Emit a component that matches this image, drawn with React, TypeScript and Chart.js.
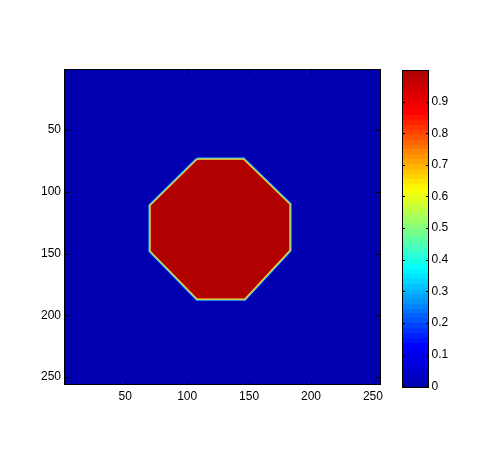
import React, { useEffect, useRef } from "react";
import { Chart, registerables } from "chart.js";
Chart.register(...registerables);

// ---- data ----
const IMAGE_X_EXTENT = [0.5, 256.5];
const IMAGE_Y_EXTENT = [0.5, 256.5];
const X_TICKS = [50, 100, 150, 200, 250];
const Y_TICKS = [50, 100, 150, 200, 250];
const OCTAGON_X = [108, 145.5, 183, 183, 146.5, 108, 70, 70, 108];
const OCTAGON_Y = [73.5, 73.5, 110, 147.5, 187, 187, 148, 111, 73.5];
const BACKGROUND_VALUE = 0;
const OCTAGON_VALUE = 1;
const CBAR_RANGE = [-0.0057, 1.0];
const CBAR_TICKS = [0, 0.1, 0.2, 0.3, 0.4, 0.5, 0.6, 0.7, 0.8, 0.9];
const CBAR_LABELS = ["0", "0.1", "0.2", "0.3", "0.4", "0.5", "0.6", "0.7", "0.8", "0.9"];

// ---- style ----
const FONT = { family: "'Liberation Sans', Arial, Helvetica, sans-serif", size: 12 };
const JET_STOPS: [number, number[]][] = [
  [0, [0, 0, 176]],
  [0.125, [0, 0, 255]],
  [0.375, [0, 255, 255]],
  [0.625, [255, 255, 0]],
  [0.875, [255, 0, 0]],
  [1, [176, 0, 0]],
];
const LEVELS = 64;

function jet(t: number): string {
  const q = Math.min(LEVELS - 1, Math.max(0, Math.floor(t * LEVELS)));
  const v = q / (LEVELS - 1);
  for (let i = 1; i < JET_STOPS.length; i++) {
    const [p1, c1] = JET_STOPS[i];
    const [p0, c0] = JET_STOPS[i - 1];
    if (v <= p1) {
      const f = (v - p0) / (p1 - p0);
      const c = c0.map((a, k) => Math.round(a + (c1[k] - a) * f));
      return `rgb(${c[0]},${c[1]},${c[2]})`;
    }
  }
  return "rgb(176,0,0)";
}
function valueColor(v: number) {
  return jet((v - CBAR_RANGE[0]) / (CBAR_RANGE[1] - CBAR_RANGE[0]));
}

const frameTicks = (len: number, xTicks: boolean) => ({
  id: "frameTicks",
  afterDraw(chart: any) {
    const { ctx, chartArea: a, scales } = chart;
    ctx.save();
    ctx.strokeStyle = "#000";
    ctx.lineWidth = 1;
    ctx.beginPath();
    if (xTicks) {
      for (const v of X_TICKS) {
        const px = Math.round(scales.x.getPixelForValue(v)) + 0.5;
        ctx.moveTo(px, a.bottom); ctx.lineTo(px, a.bottom - len);
        ctx.moveTo(px, a.top); ctx.lineTo(px, a.top + len);
      }
    }
    for (const t of scales.y.ticks) {
      const py = Math.round(scales.y.getPixelForValue(t.value)) + 0.5;
      ctx.moveTo(a.left, py); ctx.lineTo(a.left + len, py);
      ctx.moveTo(a.right, py); ctx.lineTo(a.right - len, py);
    }
    ctx.stroke();
    ctx.strokeRect(a.left + 0.5, a.top + 0.5, a.right - a.left - 1, a.bottom - a.top - 1);
    ctx.restore();
  },
});

export default function App() {
  const mainRef = useRef<HTMLCanvasElement>(null);
  const barRef = useRef<HTMLCanvasElement>(null);

  useEffect(() => {
    const octPts = OCTAGON_X.map((x, i) => ({ x, y: OCTAGON_Y[i] }));
    const bgPts = [
      { x: IMAGE_X_EXTENT[0], y: IMAGE_Y_EXTENT[0] },
      { x: IMAGE_X_EXTENT[1], y: IMAGE_Y_EXTENT[0] },
      { x: IMAGE_X_EXTENT[1], y: IMAGE_Y_EXTENT[1] },
      { x: IMAGE_X_EXTENT[0], y: IMAGE_Y_EXTENT[1] },
      { x: IMAGE_X_EXTENT[0], y: IMAGE_Y_EXTENT[0] },
    ];
    const main = new Chart(mainRef.current!, {
      type: "scatter",
      data: {
        datasets: [
          {
            data: bgPts, showLine: true, fill: "shape", order: 3,
            backgroundColor: valueColor(BACKGROUND_VALUE), borderWidth: 0, pointRadius: 0,
          },
          {
            data: octPts, showLine: true, fill: false, order: 2,
            borderColor: "#22B8FF", borderWidth: 3.2, pointRadius: 0, borderJoinStyle: "miter",
          },
          {
            data: octPts, showLine: true, fill: "shape", order: 1,
            backgroundColor: valueColor(OCTAGON_VALUE), borderColor: "#FFE030", borderWidth: 1.2,
            pointRadius: 0, borderJoinStyle: "miter",
          },
        ] as any,
      },
      options: {
        responsive: false, animation: false, devicePixelRatio: 1, events: [],
        layout: { padding: { left: 0, top: 69, right: 116, bottom: 0 } },
        plugins: { legend: { display: false }, tooltip: { enabled: false } },
        scales: {
          x: {
            type: "linear", position: "bottom", min: IMAGE_X_EXTENT[0], max: IMAGE_X_EXTENT[1],
            grid: { display: false, drawTicks: false }, border: { display: false },
            ticks: { font: FONT, color: "#000", padding: 4, maxRotation: 0, autoSkip: false, callback: (v: any) => String(v) },
            afterBuildTicks: (s: any) => { s.ticks = X_TICKS.map((value) => ({ value })); },
            afterFit: (s: any) => { s.height = 87; },
          },
          y: {
            type: "linear", position: "left", reverse: true, min: IMAGE_Y_EXTENT[0], max: IMAGE_Y_EXTENT[1],
            grid: { display: false, drawTicks: false }, border: { display: false },
            ticks: { font: FONT, color: "#000", padding: 3, autoSkip: false, callback: (v: any) => String(v) },
            afterBuildTicks: (s: any) => { s.ticks = Y_TICKS.map((value) => ({ value })); },
            afterFit: (s: any) => { s.width = 64; },
          },
        },
      } as any,
      plugins: [frameTicks(5, true)],
    });

    const cbar = new Chart(barRef.current!, {
      type: "bar",
      data: {
        labels: ["c"],
        datasets: [
          {
            data: [[CBAR_RANGE[0], CBAR_RANGE[1]]] as any,
            categoryPercentage: 1, barPercentage: 1, borderWidth: 0, borderSkipped: false,
            backgroundColor: (ctx: any) => {
              const chart = ctx.chart;
              if (!chart.chartArea || !chart.scales.y) return "blue";
              const ys = chart.scales.y;
              const y0 = ys.getPixelForValue(CBAR_RANGE[0]);
              const y1 = ys.getPixelForValue(CBAR_RANGE[1]);
              const g = chart.ctx.createLinearGradient(0, y0, 0, y1);
              for (let i = 0; i < LEVELS; i++) {
                const c = jet((i + 0.5) / LEVELS);
                g.addColorStop(i / LEVELS, c);
                g.addColorStop((i + 1) / LEVELS, c);
              }
              return g;
            },
          },
        ],
      },
      options: {
        responsive: false, animation: false, devicePixelRatio: 1, events: [],
        layout: { padding: { left: 22, top: 70, right: 0, bottom: 84 } },
        plugins: { legend: { display: false }, tooltip: { enabled: false } },
        scales: {
          x: { display: false },
          y: {
            type: "linear", position: "right", min: CBAR_RANGE[0], max: CBAR_RANGE[1],
            grid: { display: false, drawTicks: false }, border: { display: false },
            ticks: {
              font: FONT, color: "#000", padding: 2.5, autoSkip: false,
              callback: (v: any) => { const i = CBAR_TICKS.findIndex((t) => Math.abs(t - v) < 1e-9); return i >= 0 ? CBAR_LABELS[i] : ""; },
            },
            afterBuildTicks: (s: any) => { s.ticks = CBAR_TICKS.map((value) => ({ value })); },
            afterFit: (s: any) => { s.width = 68; },
          },
        },
      } as any,
      plugins: [frameTicks(3, false)],
    });

    return () => { main.destroy(); cbar.destroy(); };
  }, []);

  return (
    <div style={{ position: "absolute", left: 0, top: 0, width: 497, height: 472, background: "#fff" }}>
      <canvas ref={mainRef} width={497} height={472} style={{ position: "absolute", left: 0, top: 0 }} />
      <canvas ref={barRef} width={117} height={472} style={{ position: "absolute", left: 380, top: 0 }} />
    </div>
  );
}
